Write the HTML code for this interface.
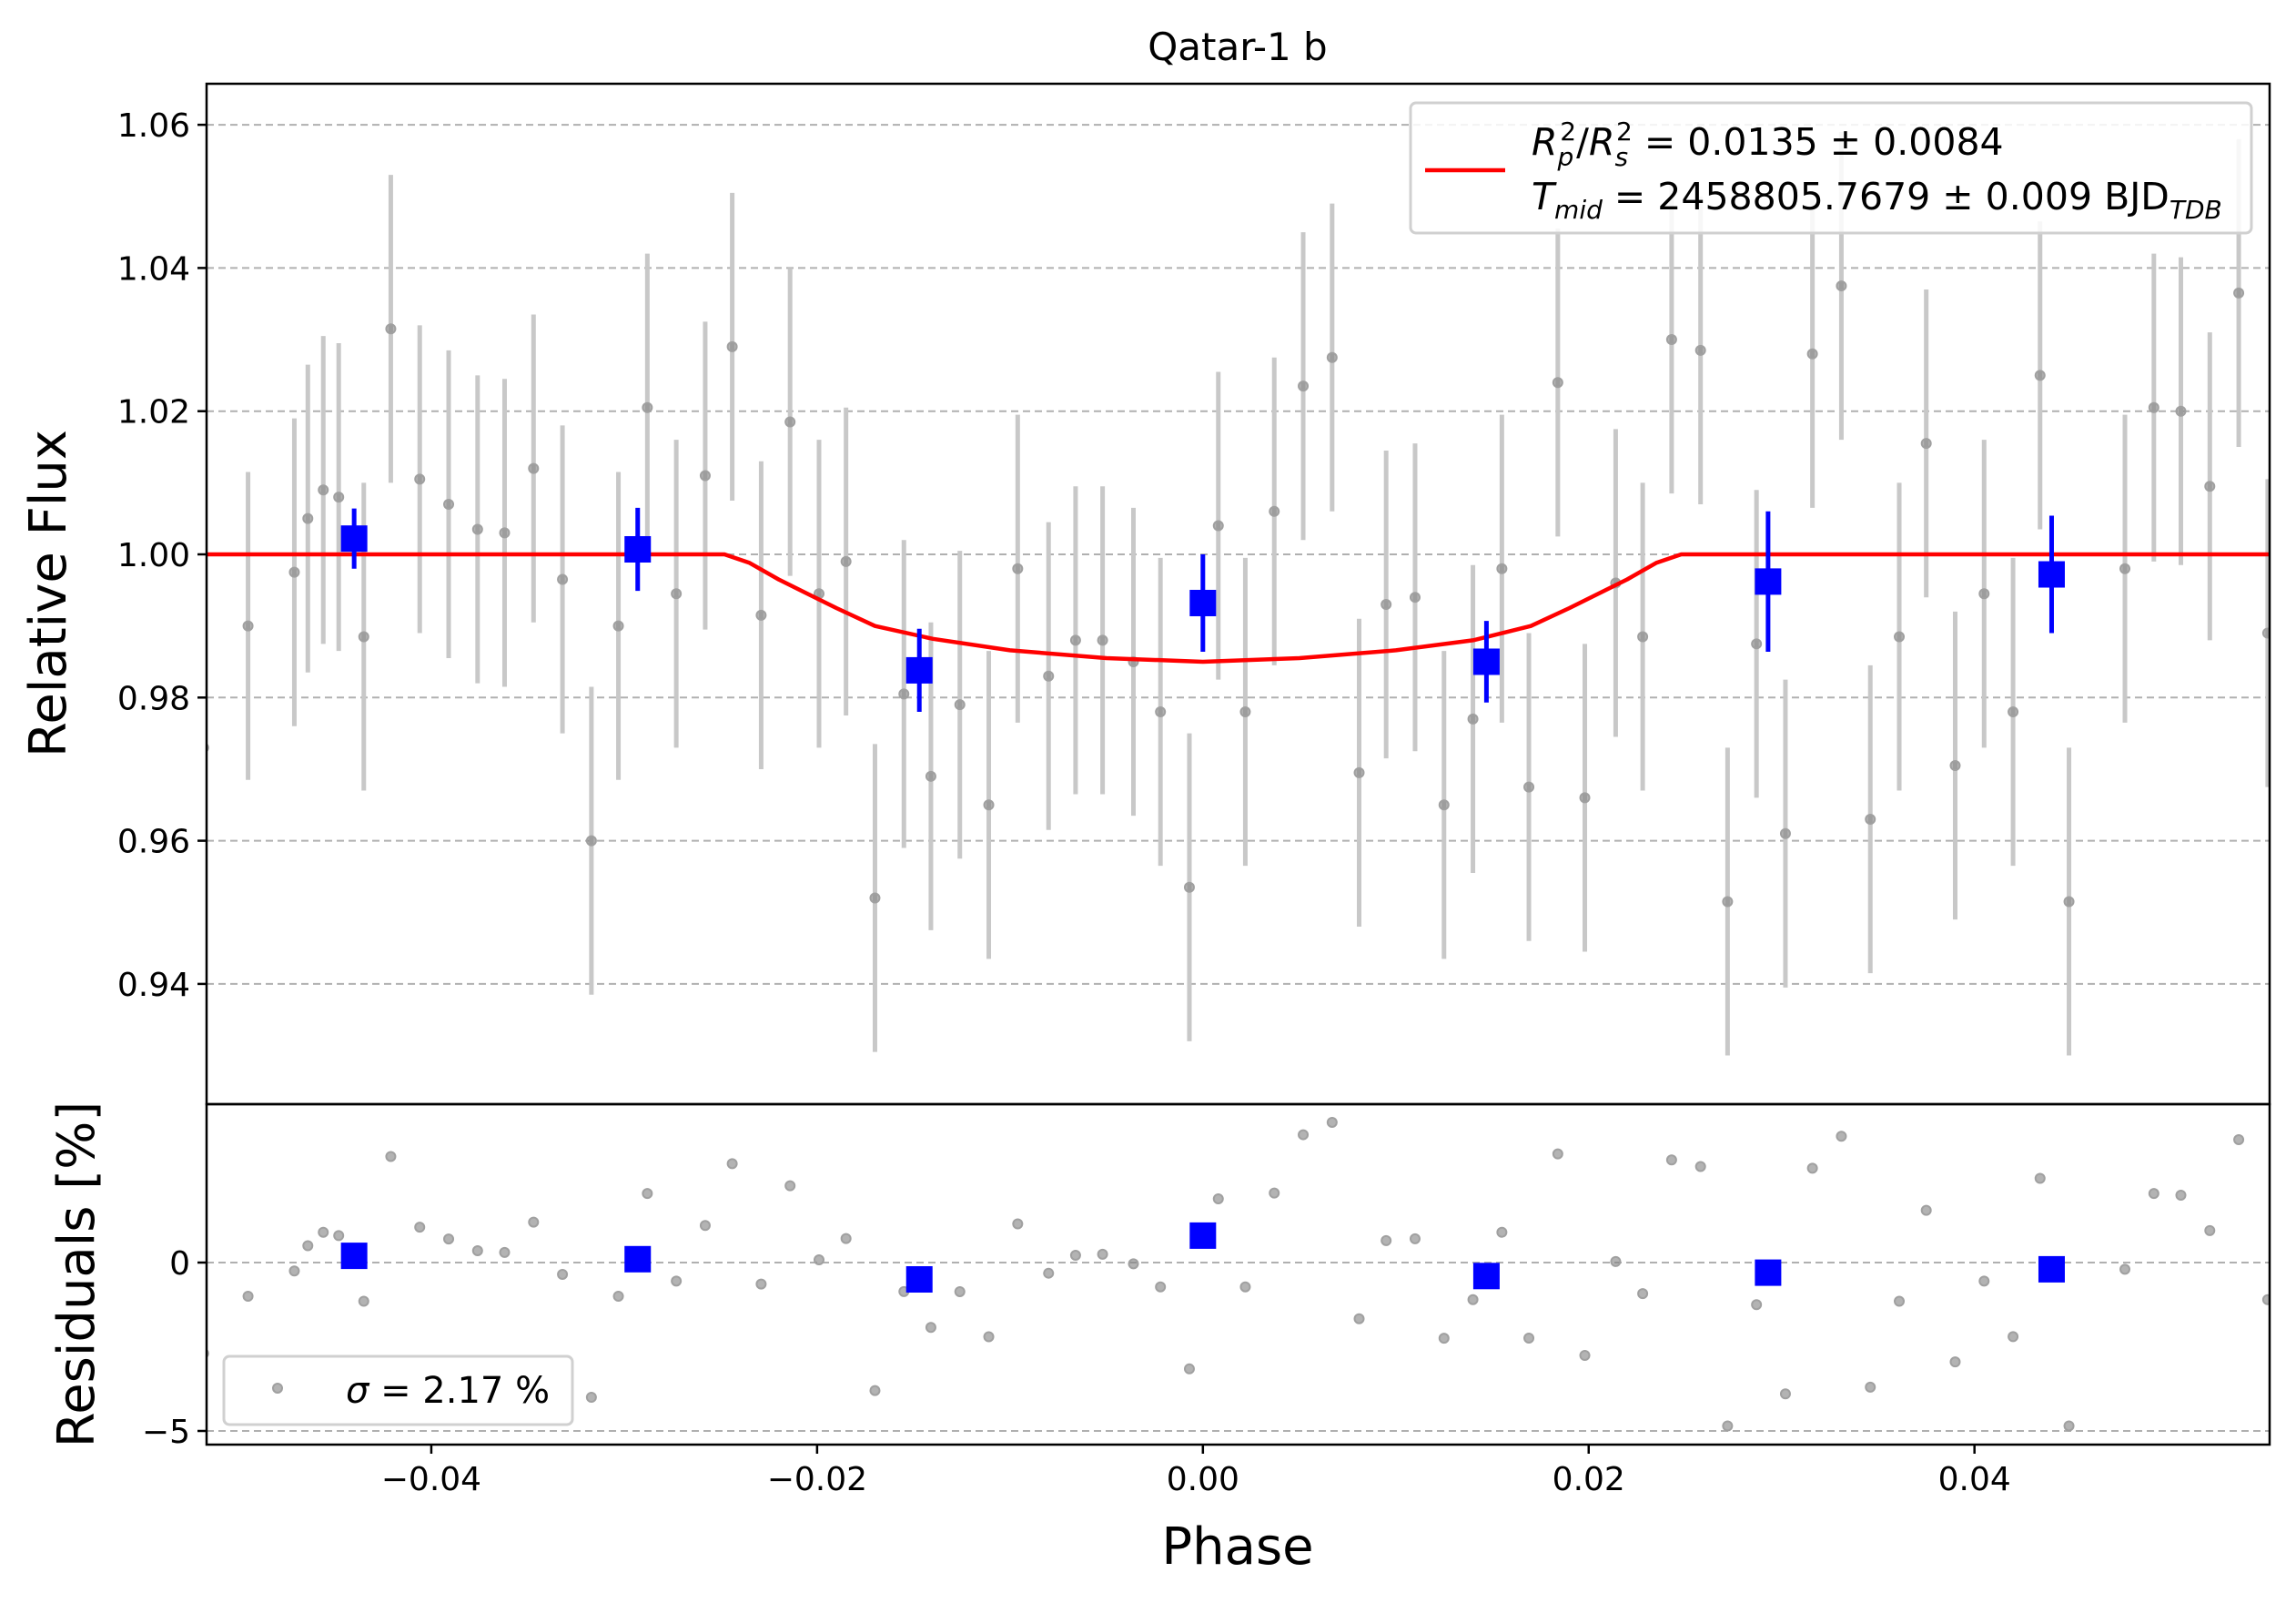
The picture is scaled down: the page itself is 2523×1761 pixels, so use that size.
<!DOCTYPE html>
<html><head><meta charset="utf-8">
<style>
html,body{margin:0;padding:0;background:#fff;}
svg{display:block;font-family:"DejaVu Sans","Liberation Sans",sans-serif;}
</style></head>
<body>
<svg id="chart" width="2523" height="1761" viewBox="0 0 2523 1761" xmlns="http://www.w3.org/2000/svg">
<rect width="2523" height="1761" fill="#fff"/>
<g id="top-grid"></g>
<g id="bot-grid"></g>
<g id="top-data"></g>
<g id="bot-data"></g>
<g id="axes"></g>
<text x="1360" y="66" font-size="42" text-anchor="middle">Qatar-1 b</text>
<text transform="translate(72,652) rotate(-90)" font-size="56" text-anchor="middle">Relative Flux</text>
<text transform="translate(103,1400) rotate(-90)" font-size="56" text-anchor="middle">Residuals [%]</text>
<text x="1360" y="1718" font-size="56" text-anchor="middle">Phase</text>
<g>
<rect x="1550" y="113" width="924" height="143" rx="6" fill="#fff" fill-opacity="0.85" stroke="#d0d0d0" stroke-width="3"/>
<line x1="1566" y1="187" x2="1654" y2="187" stroke="#f00" stroke-width="4.5"/>
<text x="1683" y="170" font-size="41"><tspan font-style="italic">R</tspan><tspan font-size="28" font-style="italic" dy="12">p</tspan><tspan font-size="28" dy="-28" dx="-15">2</tspan><tspan dy="16">/</tspan><tspan font-style="italic">R</tspan><tspan font-size="28" font-style="italic" dy="12">s</tspan><tspan font-size="28" dy="-28" dx="-13">2</tspan><tspan dy="16"> = 0.0135 ± 0.0084</tspan></text>
<text x="1683" y="230" font-size="41"><tspan font-style="italic">T</tspan><tspan font-size="28" font-style="italic" dy="10">mid</tspan><tspan dy="-10"> = 2458805.7679 ± 0.009 BJD</tspan><tspan font-size="28" font-style="italic" dy="10">TDB</tspan></text>
</g>
<g>
<rect x="246" y="1490" width="383" height="75" rx="6" fill="#fff" fill-opacity="0.85" stroke="#d0d0d0" stroke-width="3"/>
<circle cx="305" cy="1525" r="5" fill="#808080" fill-opacity="0.6" stroke="#a0a0a0" stroke-width="2"/>
<text x="380" y="1541" font-size="40"><tspan font-style="italic">σ</tspan> = 2.17 %</text>
</g>
</svg>
<script>
const phases=[-0.0518,-0.0495,-0.0471,-0.0464,-0.0456,-0.0448,-0.0435,-0.0421,-0.0406,-0.0391,-0.0376,-0.0362,-0.0347,-0.0332,-0.0317,-0.0303,-0.0288,-0.0273,-0.0258,-0.0244,-0.0229,-0.0214,-0.0199,-0.0185,-0.0170,-0.0155,-0.0141,-0.0126,-0.0111,-0.0096,-0.0080,-0.0066,-0.0052,-0.0036,-0.0022,-0.0007,0.0008,0.0022,0.0037,0.0052,0.0067,0.0081,0.0095,0.0110,0.0125,0.0140,0.0155,0.0169,0.0184,0.0198,0.0214,0.0228,0.0243,0.0258,0.0272,0.0287,0.0302,0.0316,0.0331,0.0346,0.0361,0.0375,0.0390,0.0405,0.0420,0.0434,0.0449,0.0478,0.0493,0.0507,0.0522,0.0537,0.0552];
const fluxes=[0.973,0.990,0.9975,1.005,1.009,1.008,0.9885,1.0315,1.0105,1.007,1.0035,1.003,1.012,0.9965,0.960,0.990,1.0205,0.9945,1.011,1.029,0.9915,1.0185,0.9945,0.999,0.952,0.9805,0.969,0.979,0.965,0.998,0.983,0.988,0.988,0.985,0.978,0.9535,1.004,0.978,1.006,1.0235,1.0275,0.9695,0.993,0.994,0.965,0.977,0.998,0.9675,1.024,0.966,0.996,0.9885,1.030,1.0285,0.9515,0.9875,0.961,1.028,1.0375,0.963,0.9885,1.0155,0.9705,0.9945,0.978,1.025,0.9515,0.998,1.0205,1.020,1.0095,1.0365,0.989];
const fluxErr=0.0215;
const binPhases=[-0.0440,-0.0293,-0.0147,0.0,0.0147,0.0293,0.0440];
const binFlux=[1.0022,1.0007,0.9838,0.9932,0.9850,0.9962,0.9972];
const binErr=[0.0042,0.0058,0.0058,0.0068,0.0057,0.0098,0.0082];
const binResid=[0.2,0.1,-0.5,0.8,-0.4,-0.3,-0.2];
const modelPhases=[-0.056,-0.0248,-0.0235,-0.022,-0.019,-0.017,-0.014,-0.010,-0.005,0.0,0.005,0.010,0.014,0.017,0.019,0.022,0.0235,0.0248,0.056];
const modelFlux=[1,1,0.9988,0.9965,0.9925,0.9900,0.9882,0.9866,0.9855,0.9850,0.9855,0.9866,0.9880,0.9900,0.9925,0.9965,0.9988,1,1];
const yTicks=[0.94,0.96,0.98,1.00,1.02,1.04,1.06];
const rTicks=[-5,0];
const xTicks=[-0.04,-0.02,0.00,0.02,0.04];

const L=227,R=2494,T1=92,B1=1213,T2=1213,B2=1587;
const X0=-0.05165,X1=0.0553;
const sx=p=>L+(p-X0)/(X1-X0)*(R-L);
const sy=f=>609-(f-1.0)/0.02*157.3;
const sr=r=>1387-r*37;
const NS="http://www.w3.org/2000/svg";
function mk(parent,tag,attrs){const e=document.createElementNS(NS,tag);for(const k in attrs)e.setAttribute(k,attrs[k]);document.getElementById(parent).appendChild(e);return e;}
function modelAt(p){for(let i=0;i<modelPhases.length-1;i++){if(p>=modelPhases[i]&&p<=modelPhases[i+1]){const t=(p-modelPhases[i])/(modelPhases[i+1]-modelPhases[i]);return modelFlux[i]+t*(modelFlux[i+1]-modelFlux[i]);}}return 1;}

yTicks.forEach(v=>{const y=sy(v);
const g=mk('top-grid','line',{x1:L,x2:R,y1:y,y2:y,stroke:'#b0b0b0','stroke-width':2,'stroke-dasharray':'8,5'});


const tk=mk('axes','line',{x1:L-10,x2:L,y1:y,y2:y,stroke:'#000','stroke-width':2.5});


const t=mk('axes','text',{x:L-18,y:y+13,'font-size':36,'text-anchor':'end'});t.textContent=v.toFixed(2);

});
rTicks.forEach(v=>{const y=sr(v);
const g=mk('bot-grid','line',{x1:L,x2:R,y1:y,y2:y,stroke:'#b0b0b0','stroke-width':2,'stroke-dasharray':'8,5'});


const tk=mk('axes','line',{x1:L-10,x2:L,y1:y,y2:y,stroke:'#000','stroke-width':2.5});


const t=mk('axes','text',{x:L-18,y:y+13,'font-size':36,'text-anchor':'end'});t.textContent=v<0?'−'+Math.abs(v):String(v);

});
xTicks.forEach(v=>{const x=sx(v);
const tk=mk('axes','line',{x1:x,x2:x,y1:B2,y2:B2+10,stroke:'#000','stroke-width':2.5});


const t=mk('axes','text',{x:x,y:B2+50,'font-size':36,'text-anchor':'middle'});t.textContent=(v<0?'−':'')+Math.abs(v).toFixed(2);

});

phases.forEach((p,i)=>{const x=sx(p),y=sy(fluxes[i]);
const e=mk('top-data','line',{x1:x,x2:x,y1:sy(fluxes[i]+fluxErr),y2:sy(fluxes[i]-fluxErr),stroke:'#c8c8c8','stroke-width':5});


const c=mk('top-data','circle',{cx:x,cy:y,r:5,fill:'#808080','fill-opacity':0.6,stroke:'#a0a0a0','stroke-width':2});


const rr=(fluxes[i]-modelAt(p))*100;
const c2=mk('bot-data','circle',{cx:x,cy:sr(rr),r:5,fill:'#808080','fill-opacity':0.6,stroke:'#a0a0a0','stroke-width':2});

});

const pts=modelPhases.map((p,i)=>sx(p).toFixed(1)+','+sy(modelFlux[i]).toFixed(1)).join(' ');
const m=mk('top-data','polyline',{points:pts,fill:'none',stroke:'#f00','stroke-width':4.5,'stroke-linejoin':'round'});



binPhases.forEach((p,i)=>{const x=sx(p);
const e=mk('top-data','line',{x1:x,x2:x,y1:sy(binFlux[i]+binErr[i]),y2:sy(binFlux[i]-binErr[i]),stroke:'#00f','stroke-width':5});


const s=mk('top-data','rect',{x:x-14.5,y:sy(binFlux[i])-14.5,width:29,height:29,fill:'#00f'});


const s2=mk('bot-data','rect',{x:x-14.5,y:sr(binResid[i])-14.5,width:29,height:29,fill:'#00f'});

});

const f1=mk('axes','rect',{x:L,y:T1,width:R-L,height:B1-T1,fill:'none',stroke:'#000','stroke-width':2.5});


const f2=mk('axes','rect',{x:L,y:T2,width:R-L,height:B2-T2,fill:'none',stroke:'#000','stroke-width':2.5});


document.getElementById('top-data').setAttribute('clip-path','url(#c1)');
document.getElementById('bot-data').setAttribute('clip-path','url(#c2)');
const defs=document.createElementNS(NS,'defs');
defs.innerHTML='<clipPath id="c1"><rect x="'+L+'" y="'+T1+'" width="'+(R-L)+'" height="'+(B1-T1)+'"/></clipPath><clipPath id="c2"><rect x="'+L+'" y="'+T2+'" width="'+(R-L)+'" height="'+(B2-T2)+'"/></clipPath>';
document.getElementById('chart').insertBefore(defs,document.getElementById('chart').firstChild);
</script>
</body></html>
